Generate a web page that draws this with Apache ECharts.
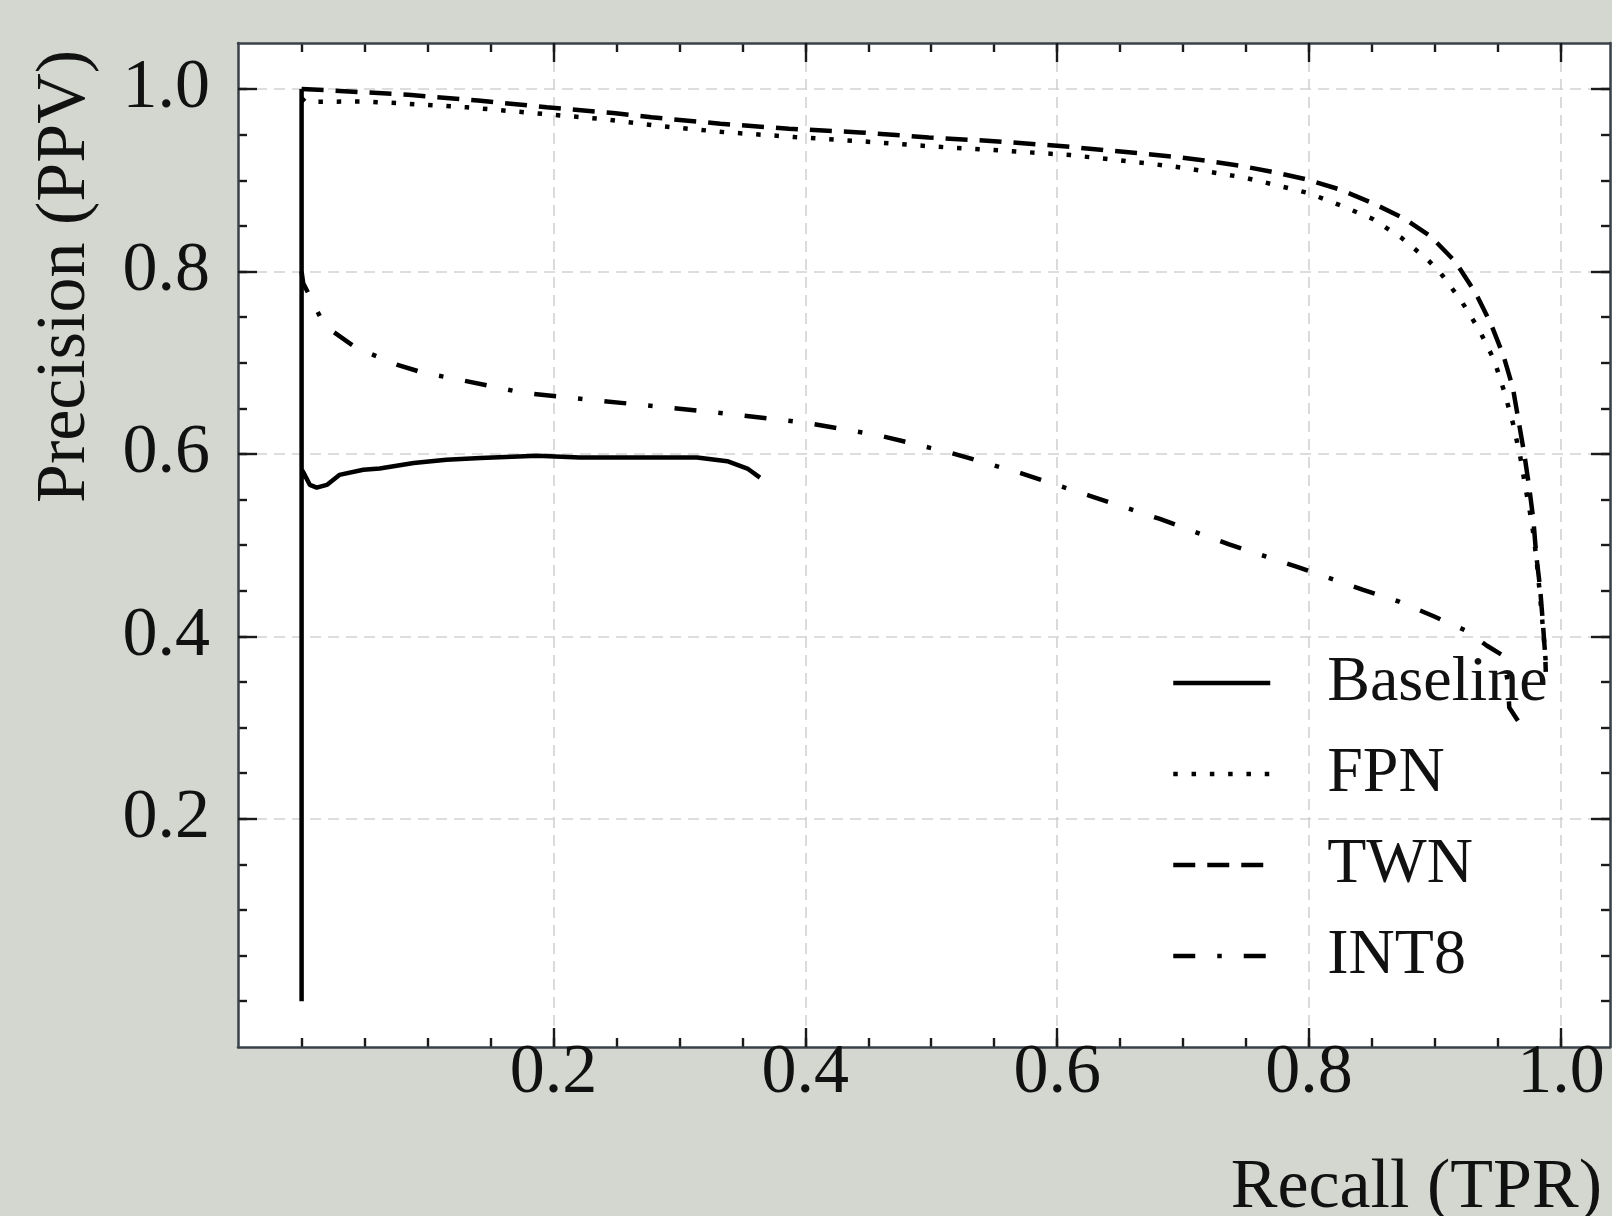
<!DOCTYPE html>
<html><head><meta charset="utf-8">
<script src="https://cdn.jsdelivr.net/npm/echarts@6/dist/echarts.min.js"></script>
<style>html,body{margin:0;padding:0;background:#d4d7d0}#c{width:1612px;height:1216px}</style>
</head><body><div id="c"></div>
<script>
// ---- data ----
const baselineRecall    = [0, 0, 0, 0.0013, 0.0066, 0.012, 0.020, 0.030, 0.049, 0.062, 0.089, 0.115, 0.142, 0.187, 0.221, 0.274, 0.314, 0.338, 0.354, 0.364];
const baselinePrecision = [0.0, 1.0, 0.583, 0.580, 0.566, 0.563, 0.566, 0.577, 0.5826, 0.584, 0.590, 0.5935, 0.5955, 0.598, 0.596, 0.596, 0.596, 0.592, 0.584, 0.574];

const fpnRecall    = [0, 0.003, 0.049, 0.0754, 0.131, 0.184, 0.2396, 0.2808, 0.3355, 0.3917, 0.4465, 0.5012, 0.5559, 0.6106, 0.6653, 0.6923, 0.7188, 0.7466, 0.773, 0.7995, 0.826, 0.8507, 0.8737, 0.8949, 0.9041, 0.9208, 0.9351, 0.947, 0.955, 0.9619, 0.9677, 0.9722, 0.977, 0.9804, 0.983, 0.9854, 0.9875, 0.9883];
const fpnPrecision = [0.99, 0.986, 0.9864, 0.9846, 0.980, 0.9737, 0.967, 0.960, 0.9528, 0.9474, 0.9426, 0.937, 0.9327, 0.9276, 0.9195, 0.9151, 0.9097, 0.9035, 0.895, 0.886, 0.872, 0.8575, 0.8366, 0.812, 0.799, 0.768, 0.736, 0.703, 0.6684, 0.6338, 0.5972, 0.5606, 0.524, 0.4875, 0.451, 0.4145, 0.3816, 0.363];

const twnRecall    = [0, 0.0304, 0.0847, 0.140, 0.1946, 0.2475, 0.2778, 0.3325, 0.387, 0.4434, 0.498, 0.553, 0.6075, 0.6632, 0.6915, 0.7188, 0.7453, 0.773, 0.7995, 0.8252, 0.8504, 0.875, 0.8967, 0.916, 0.9323, 0.9444, 0.9544, 0.9618, 0.9663, 0.9708, 0.9748, 0.9782, 0.9804, 0.9835, 0.9857, 0.9876, 0.988];
const twnPrecision = [1.0, 0.998, 0.9937, 0.9875, 0.980, 0.9737, 0.969, 0.962, 0.9565, 0.9525, 0.947, 0.9426, 0.937, 0.9298, 0.926, 0.9214, 0.916, 0.9086, 0.9005, 0.8896, 0.875, 0.8585, 0.8384, 0.811, 0.7763, 0.7427, 0.7076, 0.673, 0.637, 0.601, 0.5636, 0.527, 0.4894, 0.4528, 0.4145, 0.378, 0.361];

const int8Recall    = [0, 0.0013, 0.008, 0.0145, 0.025, 0.0437, 0.0755, 0.0966, 0.123, 0.176, 0.2316, 0.29, 0.345, 0.4015, 0.4595, 0.516, 0.571, 0.626, 0.681, 0.736, 0.790, 0.843, 0.8716, 0.899, 0.925, 0.941, 0.954, 0.958, 0.959, 0.968];
const int8Precision = [0.80, 0.787, 0.769, 0.751, 0.734, 0.716, 0.698, 0.689, 0.682, 0.667, 0.659, 0.651, 0.643, 0.634, 0.620, 0.601, 0.579, 0.554, 0.529, 0.501, 0.4765, 0.451, 0.438, 0.422, 0.406, 0.390, 0.379, 0.349, 0.322, 0.303];

const seriesNames = ['Baseline', 'FPN', 'TWN', 'INT8'];
const majorTicks = [0.2, 0.4, 0.6, 0.8, 1.0];
const minorTicks = [0.0, 0.05, 0.1, 0.15, 0.2, 0.25, 0.3, 0.35, 0.4, 0.45, 0.5, 0.55, 0.6, 0.65, 0.7, 0.75, 0.8, 0.85, 0.9, 0.95, 1.0];
const xLabel = 'Recall (TPR)';
const yLabel = 'Precision (PPV)';

// ---- chart ----
const X_MIN = -0.0505, X_MAX = 1.039, Y_MIN = -0.0502, Y_MAX = 1.0505;
const FONT = '"Liberation Serif", "Times New Roman", serif';
const AXIS_COLOR = '#3a4249';
const TICK_COLOR = '#1a1a1a';
const GRID_COLOR = '#d2d2d2';

function zip(a, b) { return a.map((v, i) => [v, b[i]]); }

function axis(kind, pos, major, labels) {
  return {
    type: 'value', position: pos,
    min: kind === 'x' ? X_MIN : Y_MIN, max: kind === 'x' ? X_MAX : Y_MAX,
    axisLine: { show: major, onZero: false, lineStyle: { color: AXIS_COLOR, width: 2.5 } },
    axisTick: { show: true, inside: true, length: major ? 19 : 9,
      customValues: major ? majorTicks : minorTicks,
      lineStyle: { color: TICK_COLOR, width: 2.4 } },
    axisLabel: labels ? { show: true, customValues: majorTicks, formatter: v => v.toFixed(1),
      fontFamily: FONT, fontSize: 70, lineHeight: 70, color: '#111', margin: kind === 'x' ? -8 : 28 } : { show: false },
    splitLine: { show: labels, lineStyle: { color: GRID_COLOR, type: [11, 7], width: 1.6 } },
    z: major ? 3 : 2
  };
}

const chart = echarts.init(document.getElementById('c'), null, { renderer: 'canvas' });
const lineTypes = ['solid', [4.5, 13.8], [22, 12], [22, 22, 4.5, 22]];
const datas = [zip(baselineRecall, baselinePrecision), zip(fpnRecall, fpnPrecision), zip(twnRecall, twnPrecision), zip(int8Recall, int8Precision)];

chart.setOption({
  animation: false,
  backgroundColor: '#d4d7d0',
  grid: { left: 238, right: 2, top: 43, bottom: 169, containLabel: false, outerBoundsMode: 'none',
          show: true, backgroundColor: '#ffffff', borderWidth: 0 },
  xAxis: [axis('x', 'bottom', true, true), axis('x', 'bottom', false, false), axis('x', 'top', true, false), axis('x', 'top', false, false)],
  yAxis: [axis('y', 'left', true, true), axis('y', 'left', false, false), axis('y', 'right', true, false), axis('y', 'right', false, false)],
  legend: {
    orient: 'vertical', left: 1166, top: 646, itemWidth: 97, itemHeight: 14, itemGap: 27,
    selectedMode: false, data: seriesNames,
    itemStyle: { opacity: 0 },
    lineStyle: { width: 4.5, color: '#000' },
    textStyle: { fontFamily: FONT, fontSize: 64, color: '#111', padding: [0, 0, 0, 52], lineHeight: 64 }
  },
  series: seriesNames.map((n, i) => ({
    name: n, type: 'line', data: datas[i], symbol: 'none', showSymbol: false, clip: true,
    xAxisIndex: 0, yAxisIndex: 0,
    itemStyle: { color: '#000' },
    lineStyle: { color: '#000', width: 4.5, type: lineTypes[i], cap: 'butt' },
    z: 10
  })),
  graphic: [
    { type: 'text', x: 66, y: 50, rotation: Math.PI / 2,
      style: { text: yLabel, font: '70px ' + FONT, fill: '#111', align: 'right', verticalAlign: 'middle' } },
    { type: 'text', x: 1602, y: 1189,
      style: { text: xLabel, font: '70px ' + FONT, fill: '#111', align: 'right', verticalAlign: 'middle' } }
  ]
});
</script></body></html>
